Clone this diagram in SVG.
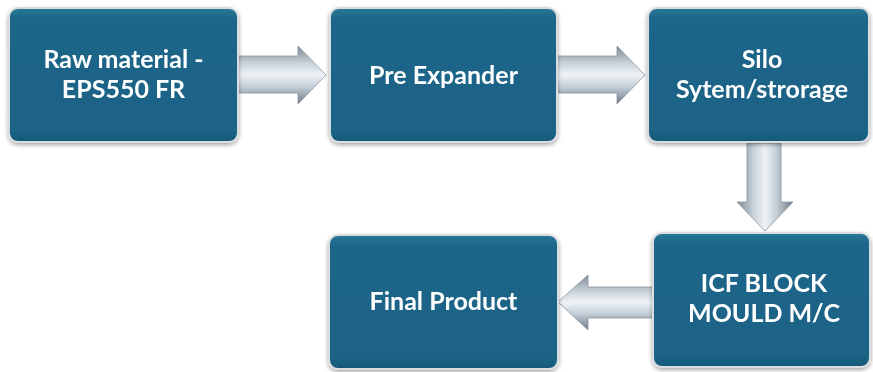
<svg xmlns="http://www.w3.org/2000/svg" width="873" height="372" viewBox="0 0 873 372">
<defs>
<style>
.box{fill:url(#bf);stroke:#d9dde0;stroke-width:2}
.t{font-family:Lato,"Liberation Sans",sans-serif;font-weight:700;font-size:25px;fill:#fff;text-anchor:middle}
.arr{stroke:#8a96a0;stroke-width:0.8}
</style>
<linearGradient id="bf" x1="0" y1="0" x2="0" y2="1">
<stop offset="0" stop-color="#2a7898"/>
<stop offset="0.08" stop-color="#1b6689"/>
<stop offset="0.92" stop-color="#1a6386"/>
<stop offset="1" stop-color="#165876"/>
</linearGradient>
<linearGradient id="ah" x1="0" y1="0" x2="0" y2="1">
<stop offset="0" stop-color="#7d8994"/>
<stop offset="0.3" stop-color="#c9d3db"/>
<stop offset="0.5" stop-color="#eef3f7"/>
<stop offset="0.7" stop-color="#c5cfd8"/>
<stop offset="1" stop-color="#6f7b86"/>
</linearGradient>
<linearGradient id="av" x1="0" y1="0" x2="1" y2="0">
<stop offset="0" stop-color="#7d8994"/>
<stop offset="0.3" stop-color="#c9d3db"/>
<stop offset="0.5" stop-color="#eef3f7"/>
<stop offset="0.7" stop-color="#c5cfd8"/>
<stop offset="1" stop-color="#6f7b86"/>
</linearGradient>
<filter id="sh" x="-10%" y="-10%" width="120%" height="130%">
<feDropShadow dx="0" dy="2" stdDeviation="2" flood-color="#000" flood-opacity="0.35"/>
</filter>
</defs>
<g id="connectors">
<path class="arr" fill="url(#ah)" d="M238,56 H298 V46 L326,75 L298,104 V93 H238 Z"/>
<path class="arr" fill="url(#ah)" d="M557,56 H617 V46 L645,75 L617,104 V93 H557 Z"/>
<path class="arr" fill="url(#av)" d="M747,143 V202 H737 L765,231 L793,202 H781 V143 Z"/>
<path class="arr" fill="url(#ah)" d="M653,287 H588 V275 L558,302 L588,330 V318 H653 Z"/>
</g>
<g id="n1" filter="url(#sh)">
<rect class="box" x="9" y="8" width="229" height="134" rx="9"/>
<text class="t" x="123.5" y="68">Raw material -</text>
<text class="t" x="123.5" y="98">EPS550 FR</text>
</g>
<g id="n2" filter="url(#sh)">
<rect class="box" x="330" y="8" width="227" height="134" rx="9"/>
<text class="t" x="443.5" y="83.5">Pre Expander</text>
</g>
<g id="n3" filter="url(#sh)">
<rect class="box" x="648" y="8" width="221" height="134" rx="9"/>
<text class="t" x="762" y="68">Silo</text>
<text class="t" x="762" y="98">Sytem/strorage</text>
</g>
<g id="n4" filter="url(#sh)">
<rect class="box" x="653" y="233" width="217" height="134" rx="9"/>
<text class="t" x="764" y="292">ICF BLOCK</text>
<text class="t" x="764" y="322">MOULD M/C</text>
</g>
<g id="n5" filter="url(#sh)">
<rect class="box" x="329" y="235" width="229" height="134" rx="9"/>
<text class="t" x="443.5" y="310">Final Product</text>
</g>
</svg>
